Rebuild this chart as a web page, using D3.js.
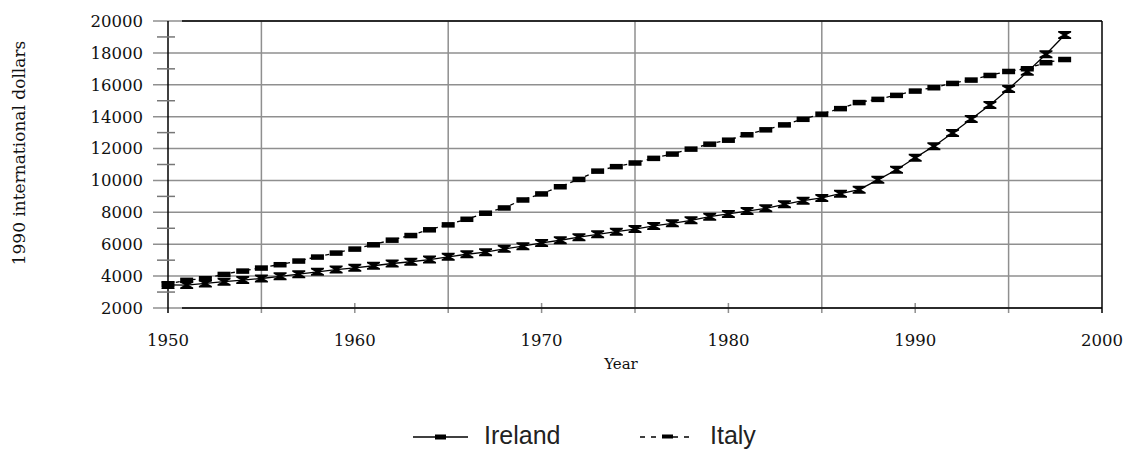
<!DOCTYPE html>
<html>
<head>
<meta charset="utf-8">
<script src="https://cdn.jsdelivr.net/npm/d3@7"></script>
<style>
body { margin: 0; background: #fff; }
svg { display: block; }
.tick-label { font-family: "DejaVu Serif", serif; font-size: 16.5px; fill: #111; }
.legend-label { font-family: "Liberation Sans", Arial, sans-serif; font-size: 25px; fill: #222; }
</style>
</head>
<body>
<script>
// donnees
const years = d3.range(1950, 1999);
const ireland = [3450, 3440, 3540, 3650, 3750, 3850, 3990, 4120, 4270, 4410,
  4520, 4650, 4790, 4900, 5040, 5210, 5370, 5500, 5710, 5880,
  6080, 6250, 6440, 6620, 6790, 6950, 7150, 7310, 7500, 7730,
  7900, 8080, 8250, 8500, 8730, 8900, 9170, 9420, 10040, 10670,
  11420, 12150, 12980, 13850, 14730, 15730, 16810, 17920, 19120];
const italy = [3500, 3750, 3850, 4120, 4330, 4520, 4730, 4960, 5210, 5460,
  5710, 5980, 6270, 6560, 6920, 7230, 7580, 7960, 8290, 8790,
  9170, 9620, 10080, 10600, 10880, 11110, 11400, 11670, 11980, 12290,
  12540, 12880, 13190, 13500, 13850, 14170, 14520, 14900, 15100, 15350,
  15620, 15830, 16100, 16310, 16600, 16850, 17020, 17400, 17600];
const yTicks = [2000, 4000, 6000, 8000, 10000, 12000, 14000, 16000, 18000, 20000];
const yMinor = [3000, 5000, 7000, 9000, 11000, 13000, 15000, 17000, 19000];
const xTicks = [1950, 1960, 1970, 1980, 1990, 2000];
const xGrid = [1955, 1965, 1975, 1985, 1995];
const seriesNames = ["Ireland", "Italy"];

const svg = d3.select("body").append("svg").attr("width", 1126).attr("height", 450);
svg.append("rect").attr("width", 1126).attr("height", 450).attr("fill", "#fff");

const x = d3.scaleLinear().domain([1950, 2000]).range([168, 1102]);
const y = d3.scaleLinear().domain([2000, 20000]).range([308, 21]);
const grey = "#8f8f8f";

// grille horizontale
svg.selectAll(".hgrid").data(yTicks).enter().append("line")
  .attr("x1", 153).attr("x2", x(2000))
  .attr("y1", d => y(d)).attr("y2", d => y(d))
  .attr("stroke", grey).attr("stroke-width", 1.5);

// grille verticale
svg.selectAll(".vgrid").data(xGrid).enter().append("line")
  .attr("x1", d => x(d)).attr("x2", d => x(d))
  .attr("y1", y(20000)).attr("y2", y(2000) + 5)
  .attr("stroke", grey).attr("stroke-width", 1.5);

// petites graduations x
svg.selectAll(".xtick").data(xTicks.slice(1, -1)).enter().append("line")
  .attr("x1", d => x(d)).attr("x2", d => x(d))
  .attr("y1", y(2000) - 5).attr("y2", y(2000) + 5)
  .attr("stroke", grey).attr("stroke-width", 1.5);

// cadre noir
svg.append("line").attr("x1", 182).attr("x2", x(2000)).attr("y1", y(20000)).attr("y2", y(20000)).attr("stroke", "#000").attr("stroke-width", 1.5);
svg.append("line").attr("x1", 182).attr("x2", x(2000)).attr("y1", y(2000)).attr("y2", y(2000)).attr("stroke", "#000").attr("stroke-width", 1.5);
svg.append("line").attr("x1", x(2000)).attr("x2", x(2000)).attr("y1", y(20000)).attr("y2", y(2000) + 5).attr("stroke", "#000").attr("stroke-width", 1.5);
svg.append("line").attr("x1", x(1950)).attr("x2", x(1950)).attr("y1", y(20000)).attr("y2", y(2000) + 5).attr("stroke", "#000").attr("stroke-width", 1.5);

// petites graduations y
svg.selectAll(".ytick").data(yMinor).enter().append("line")
  .attr("x1", 157).attr("x2", 175)
  .attr("y1", d => y(d)).attr("y2", d => y(d))
  .attr("stroke", "#777").attr("stroke-width", 1.5);

// etiquettes
svg.selectAll(".ylab").data(yTicks).enter().append("text")
  .attr("class", "tick-label")
  .attr("x", 143).attr("y", d => y(d)).attr("dy", "0.36em")
  .attr("text-anchor", "end").text(d => d);

svg.selectAll(".xlab").data(xTicks).enter().append("text")
  .attr("class", "tick-label")
  .attr("x", d => x(d)).attr("y", 346)
  .attr("text-anchor", "middle").text(d => d);

svg.append("text").attr("class", "tick-label")
  .attr("x", 621).attr("y", 369).attr("text-anchor", "middle")
  .style("font-size", "15px").text("Year");

svg.append("text").attr("class", "tick-label")
  .attr("transform", "translate(25,153) rotate(-90)")
  .attr("text-anchor", "middle").style("font-size", "17px")
  .text("1990 international dollars");

// lignes
const line = d3.line().x((d, i) => x(years[i])).y(d => y(d));

svg.append("path").datum(italy).attr("d", line)
  .attr("fill", "none").attr("stroke", "#000").attr("stroke-width", 1.3)
  .attr("stroke-dasharray", "4,4");

svg.append("path").datum(ireland).attr("d", line)
  .attr("fill", "none").attr("stroke", "#000").attr("stroke-width", 1.3);

// marqueurs
svg.selectAll(".mk-it").data(italy).enter().append("rect")
  .attr("x", (d, i) => x(years[i]) - 6.5).attr("y", d => y(d) - 2.5)
  .attr("width", 13).attr("height", 5.5).attr("fill", "#000");

const hourglass = "M-6.5,-4H6.5V-2.5L2,0L6.5,2.5V4H-6.5V2.5L-2,0L-6.5,-2.5Z";
svg.selectAll(".mk-ir").data(ireland).enter().append("path")
  .attr("d", hourglass)
  .attr("transform", (d, i) => `translate(${x(years[i])},${y(d)})`)
  .attr("fill", "#000");

// legende
const lg = svg.append("g");
lg.append("line").attr("x1", 413).attr("x2", 468).attr("y1", 437).attr("y2", 437)
  .attr("stroke", "#000").attr("stroke-width", 1.5);
lg.append("rect").attr("x", 435).attr("y", 434.5).attr("width", 11).attr("height", 5).attr("fill", "#000");
lg.append("text").attr("class", "legend-label").attr("x", 484).attr("y", 444).text(seriesNames[0]);

lg.append("line").attr("x1", 640).attr("x2", 695).attr("y1", 437).attr("y2", 437)
  .attr("stroke", "#000").attr("stroke-width", 1.5).attr("stroke-dasharray", "5,6");
lg.append("rect").attr("x", 662).attr("y", 434.5).attr("width", 11).attr("height", 4).attr("fill", "#000");
lg.append("text").attr("class", "legend-label").attr("x", 710).attr("y", 444).text(seriesNames[1]);
</script>
</body>
</html>
